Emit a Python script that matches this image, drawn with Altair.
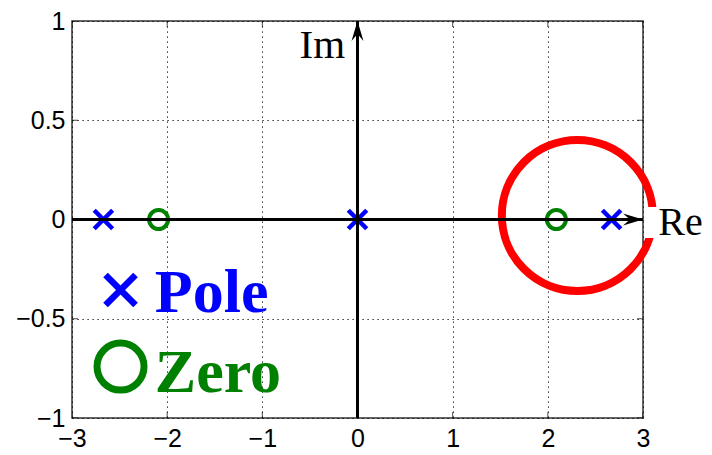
import altair as alt
import pandas as pd

# Axis tick values
x_ticks = [-3, -2, -1, 0, 1, 2, 3]
y_ticks = [-1, -0.5, 0, 0.5, 1]

# Poles and zeros of the system (real, imaginary)
pole_re = [-2.67, 0.0, 2.67]
pole_im = [0.0, 0.0, 0.0]
zero_re = [-2.09, 2.09]
zero_im = [0.0, 0.0]

# Highlight ring around the right-hand pole/zero pair
ring_re = [2.31]
ring_im = [0.02]

# In-plot legend
legend_labels = ["Pole", "Zero"]
legend_colors = ["#0000ff", "#008000"]
legend_marker_re = [-2.49, -2.49]
legend_marker_im = [-0.355, -0.741]
legend_text_re = [-2.13, -2.13]
legend_text_im = [-0.464, -0.868]

# Axis names
im_label = "Im"
im_pos = (-0.13, 0.814)
re_label = "Re"
re_pos = (3.16, -0.078)
re_box_re = (3.01, 3.75)
re_box_im = (0.063, -0.093)

BLUE = "#0000ff"
GREEN = "#008000"
RED = "#ff0000"
X_PATH = "M-1,-1L1,1M-1,1L1,-1"
ARROW_PATH = "M0,0L-2,-0.6L-1.3,0L-2,0.6Z"

xs = alt.Scale(domain=[-3, 3], nice=False, zero=False)
ys = alt.Scale(domain=[-1, 1], nice=False, zero=False)

common_axis = dict(grid=True, gridDash=[1.2, 3.8], gridColor="#000000", gridOpacity=1,
                   gridWidth=1, domain=False, ticks=False, labelFontSize=25,
                   labelFont="Liberation Sans", labelColor="#000000", title=None,
                   labelFlush=False)
x_axis = alt.Axis(values=x_ticks, labelPadding=8, **common_axis)
y_axis = alt.Axis(values=y_ticks, labelPadding=7, format="~g", **common_axis)


def X(f):
    return alt.X(f, type="quantitative", scale=xs, axis=x_axis)


def Y(f):
    return alt.Y(f, type="quantitative", scale=ys, axis=y_axis)


# Inward box ticks (outer halves clipped by the plot area)
xt_df = pd.DataFrame({"re": x_ticks * 2, "im": [-1] * len(x_ticks) + [1] * len(x_ticks)})
yt_df = pd.DataFrame({"re": [-3] * len(y_ticks) + [3] * len(y_ticks), "im": y_ticks * 2})
xticks = alt.Chart(xt_df).mark_tick(orient="vertical", size=12, thickness=1,
                                    color="#000000", clip=True).encode(x=X("re"), y=Y("im"))
yticks = alt.Chart(yt_df).mark_tick(orient="horizontal", size=12, thickness=1,
                                    color="#000000", clip=True).encode(x=X("re"), y=Y("im"))

# Red ring
ring = alt.Chart(pd.DataFrame({"re": ring_re, "im": ring_im})).mark_point(
    shape="circle", size=22800, filled=False, color=RED, strokeWidth=8, opacity=1
).encode(x=X("re"), y=Y("im"))

# Zeros and poles
zeros = alt.Chart(pd.DataFrame({"re": zero_re, "im": zero_im})).mark_point(
    shape="circle", size=361, filled=False, color=GREEN, strokeWidth=4, opacity=1
).encode(x=X("re"), y=Y("im"))
poles = alt.Chart(pd.DataFrame({"re": pole_re, "im": pole_im})).mark_point(
    shape=X_PATH, size=340, filled=False, color=BLUE, strokeWidth=4.5, opacity=1
).encode(x=X("re"), y=Y("im"))

# Real and imaginary axes with arrowheads
axes_df = pd.DataFrame({"re": [-3, 0], "re2": [3, 0], "im": [0, -1], "im2": [0, 1]})
axes_lines = alt.Chart(axes_df).mark_rule(color="#000000", strokeWidth=3).encode(
    x=X("re"), x2="re2", y=Y("im"), y2="im2"
)
arrows_df = pd.DataFrame({"re": [3, 0], "im": [0, 1], "ang": [0, 270]})
arrows = alt.Chart(arrows_df).mark_point(
    shape=ARROW_PATH, size=400, filled=True, color="#000000", opacity=1, strokeWidth=0
).encode(x=X("re"), y=Y("im"), angle=alt.Angle("ang:Q", scale=None))

# Legend markers and labels
leg_x = alt.Chart(pd.DataFrame({"re": [legend_marker_re[0]], "im": [legend_marker_im[0]]})).mark_point(
    shape=X_PATH, size=900, filled=False, color=BLUE, strokeWidth=6.5, opacity=1
).encode(x=X("re"), y=Y("im"))
leg_o = alt.Chart(pd.DataFrame({"re": [legend_marker_re[1]], "im": [legend_marker_im[1]]})).mark_point(
    shape="circle", size=2209, filled=False, color=GREEN, strokeWidth=7, opacity=1
).encode(x=X("re"), y=Y("im"))
leg_text_df = pd.DataFrame({"re": legend_text_re, "im": legend_text_im,
                            "label": legend_labels, "col": legend_colors})
leg_text = alt.Chart(leg_text_df).mark_text(
    font="Liberation Serif", fontWeight="bold", fontSize=62, align="left", baseline="alphabetic"
).encode(x=X("re"), y=Y("im"), text="label:N", color=alt.Color("col:N", scale=None))

# Axis names
im_text = alt.Chart(pd.DataFrame({"re": [im_pos[0]], "im": [im_pos[1]], "t": [im_label]})).mark_text(
    font="Liberation Serif", fontSize=41, align="right", baseline="alphabetic", color="#000000"
).encode(x=X("re"), y=Y("im"), text="t:N")
re_box = alt.Chart(pd.DataFrame({"re": [re_box_re[0]], "re2": [re_box_re[1]],
                                 "im": [re_box_im[0]], "im2": [re_box_im[1]]})).mark_rect(
    color="#ffffff"
).encode(x=X("re"), x2="re2", y=Y("im"), y2="im2")
re_text = alt.Chart(pd.DataFrame({"re": [re_pos[0]], "im": [re_pos[1]], "t": [re_label]})).mark_text(
    font="Liberation Serif", fontSize=40, align="left", baseline="alphabetic", color="#000000"
).encode(x=X("re"), y=Y("im"), text="t:N")

chart = alt.layer(
    xticks, yticks, ring, zeros, poles, axes_lines, arrows,
    leg_x, leg_o, leg_text, im_text, re_box, re_text
).properties(
    width=571, height=397,
    autosize=alt.AutoSizeParams(type="none"),
    padding={"left": 72, "top": 21, "right": 69, "bottom": 37},
    background="#ffffff",
).configure_view(stroke="#333333", strokeWidth=1.5)

chart.save("out.html", embed_options={"renderer": "svg", "actions": False})
